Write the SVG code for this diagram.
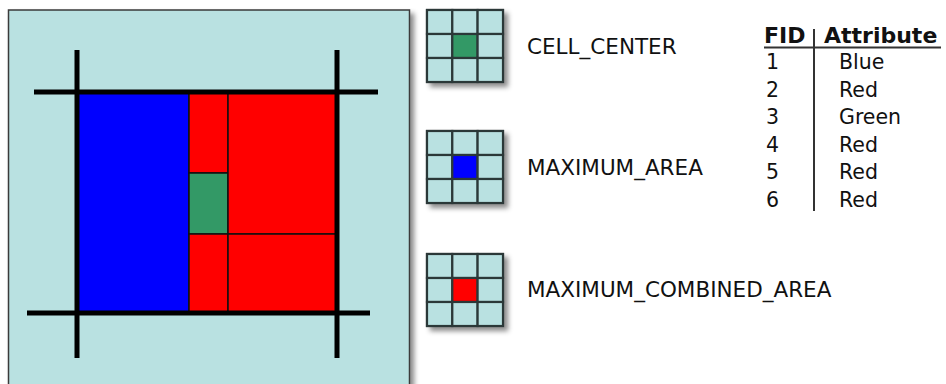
<svg xmlns="http://www.w3.org/2000/svg" width="946" height="384" viewBox="0 0 946 384">
  <defs>
    <filter id="shadow" x="-10%" y="-10%" width="130%" height="130%">
      <feDropShadow dx="4" dy="4" stdDeviation="2.5" flood-color="#000" flood-opacity="0.45"/>
    </filter>
  </defs>
  <style>
    .panel { fill: #b9e1e1; stroke: #3a3a3a; stroke-width: 1.5; }
    .thick { stroke: #000; stroke-width: 5; fill: none; }
    .poly { stroke: #111; stroke-width: 1.5; }
    .cell { fill: #b9e1e1; stroke: #2b3838; stroke-width: 2.2; }
    .lbl { font-family: "DejaVu Sans", Verdana, sans-serif; font-size: 21.5px; fill: #111; }
    .hdr { font-family: "DejaVu Sans", Verdana, sans-serif; font-size: 22px; font-weight: bold; fill: #111; }
    .row { font-family: "DejaVu Sans", Verdana, sans-serif; font-size: 20.5px; fill: #111; }
    .tline { stroke: #333; stroke-width: 2; }
  </style>
  <rect width="946" height="384" fill="#fff"/>

  <g id="input-panel">
    <rect class="panel" x="8.5" y="10" width="401" height="380" filter="url(#shadow)"/>
    <rect fill="#0000ff" class="poly" x="77" y="92" width="112" height="221"/>
    <rect fill="#ff0000" class="poly" x="189" y="92" width="39" height="81"/>
    <rect fill="#339966" class="poly" x="189" y="173" width="39" height="61"/>
    <rect fill="#ff0000" class="poly" x="189" y="234" width="39" height="79"/>
    <rect fill="#ff0000" class="poly" x="228" y="92" width="109" height="142"/>
    <rect fill="#ff0000" class="poly" x="228" y="234" width="109" height="79"/>
    <line class="thick" x1="77" y1="50" x2="77" y2="358"/>
    <line class="thick" x1="337" y1="50" x2="337" y2="358"/>
    <line class="thick" x1="34" y1="92" x2="378" y2="92"/>
    <line class="thick" x1="27" y1="313" x2="370" y2="313"/>
  </g>

  <g id="cell-center">
    <g filter="url(#shadow)">
      <rect class="cell" x="427" y="10" width="76" height="72"/>
    </g>
    <rect class="cell" x="427" y="10" width="25.3" height="24"/>
    <rect class="cell" x="452.3" y="10" width="25.3" height="24"/>
    <rect class="cell" x="477.6" y="10" width="25.4" height="24"/>
    <rect class="cell" x="427" y="34" width="25.3" height="24"/>
    <rect class="cell" x="452.3" y="34" width="25.3" height="24" style="fill:#339966"/>
    <rect class="cell" x="477.6" y="34" width="25.4" height="24"/>
    <rect class="cell" x="427" y="58" width="25.3" height="24"/>
    <rect class="cell" x="452.3" y="58" width="25.3" height="24"/>
    <rect class="cell" x="477.6" y="58" width="25.4" height="24"/>
    <text class="lbl" x="527" y="54">CELL_CENTER</text>
  </g>

  <g id="maximum-area">
    <g filter="url(#shadow)">
      <rect class="cell" x="427" y="131" width="76" height="72"/>
    </g>
    <rect class="cell" x="427" y="131" width="25.3" height="24"/>
    <rect class="cell" x="452.3" y="131" width="25.3" height="24"/>
    <rect class="cell" x="477.6" y="131" width="25.4" height="24"/>
    <rect class="cell" x="427" y="155" width="25.3" height="24"/>
    <rect class="cell" x="452.3" y="155" width="25.3" height="24" style="fill:#0000ff"/>
    <rect class="cell" x="477.6" y="155" width="25.4" height="24"/>
    <rect class="cell" x="427" y="179" width="25.3" height="24"/>
    <rect class="cell" x="452.3" y="179" width="25.3" height="24"/>
    <rect class="cell" x="477.6" y="179" width="25.4" height="24"/>
    <text class="lbl" x="527" y="175">MAXIMUM_AREA</text>
  </g>

  <g id="maximum-combined-area">
    <g filter="url(#shadow)">
      <rect class="cell" x="427" y="254" width="76" height="72"/>
    </g>
    <rect class="cell" x="427" y="254" width="25.3" height="24"/>
    <rect class="cell" x="452.3" y="254" width="25.3" height="24"/>
    <rect class="cell" x="477.6" y="254" width="25.4" height="24"/>
    <rect class="cell" x="427" y="278" width="25.3" height="24"/>
    <rect class="cell" x="452.3" y="278" width="25.3" height="24" style="fill:#ff0000"/>
    <rect class="cell" x="477.6" y="278" width="25.4" height="24"/>
    <rect class="cell" x="427" y="302" width="25.3" height="24"/>
    <rect class="cell" x="452.3" y="302" width="25.3" height="24"/>
    <rect class="cell" x="477.6" y="302" width="25.4" height="24"/>
    <text class="lbl" x="527" y="297">MAXIMUM_COMBINED_AREA</text>
  </g>

  <g id="attribute-table">
    <text class="hdr" x="764" y="43">FID</text>
    <text class="hdr" x="824" y="43">Attribute</text>
    <line class="tline" x1="764" y1="47.5" x2="941" y2="47.5"/>
    <line class="tline" x1="814" y1="29" x2="814" y2="211"/>
    <text class="row" x="766" y="69">1</text>
    <text class="row" x="766" y="96.6">2</text>
    <text class="row" x="766" y="124.2">3</text>
    <text class="row" x="766" y="151.8">4</text>
    <text class="row" x="766" y="179.4">5</text>
    <text class="row" x="766" y="207">6</text>
    <text class="row" x="839" y="69">Blue</text>
    <text class="row" x="839" y="96.6">Red</text>
    <text class="row" x="839" y="124.2">Green</text>
    <text class="row" x="839" y="151.8">Red</text>
    <text class="row" x="839" y="179.4">Red</text>
    <text class="row" x="839" y="207">Red</text>
  </g>
</svg>
